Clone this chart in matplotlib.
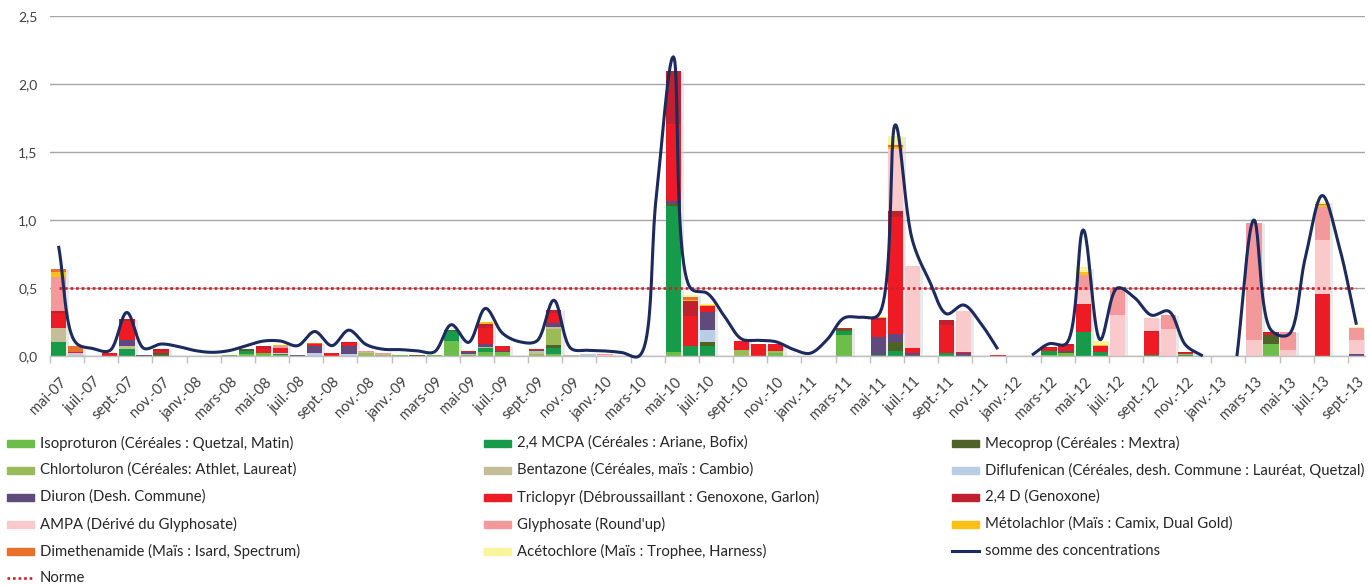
import numpy as np
import matplotlib
matplotlib.use("Agg")
import matplotlib.pyplot as plt
from matplotlib.patches import Rectangle
from matplotlib.lines import Line2D
from matplotlib.transforms import ScaledTranslation

plt.rcParams['font.family'] = ['Lato', 'DejaVu Sans']

# monthly samples, mai-07 .. sept-13
month_names = ['janv.', 'févr.', 'mars', 'avr.', 'mai', 'juin',
               'juil.', 'août', 'sept.', 'oct.', 'nov.', 'déc.']
months = []
for k in range(77):
    m = (4 + k) % 12
    y = 7 + (4 + k) // 12
    months.append(f"{month_names[m]}-{y:02d}")
n = len(months)


def series(d):
    out = np.zeros(n)
    for i, v in d.items():
        out[i] = v
    return out


# concentrations (µg/l) per molecule, keyed by month index
isoproturon = series({10: .01, 11: .015, 12: .02, 13: .01, 20: .01, 22: .004, 23: .11, 24: .01,
                      25: .03, 26: .027, 29: .015, 36: .03, 42: .02, 46: .155, 58: .005, 59: .02, 71: .09})
mcpa = series({0: .105, 4: .05, 11: .025, 13: .005, 23: .075, 25: .03, 29: .045, 36: 1.076, 37: .07,
               38: .07, 46: .03, 48: .01, 49: .04, 52: .02, 58: .035, 60: .176, 61: .032, 64: .007, 66: .008})
mecoprop = series({6: .025, 11: .01, 21: .005, 23: .007, 29: .022, 36: .012, 38: .03, 46: .01,
                   49: .06, 59: .012, 71: .068})
chlortoluron = series({18: .02, 19: .008, 28: .015, 29: .12, 40: .047, 42: .017, 66: .004})
bentazone = series({0: .10, 4: .02, 18: .012, 19: .01, 21: .005, 24: .005, 25: .008, 28: .025,
                    29: .01, 30: .008})
diflufenican = series({1: .02, 13: .01, 15: .025, 17: .012, 31: .015, 38: .093})
diuron = series({4: .05, 5: .01, 14: .01, 15: .045, 17: .065, 24: .015, 25: .02, 26: .01, 28: .005,
                 29: .027, 36: .022, 37: .007, 38: .127, 48: .127, 49: .064, 50: .02, 53: .02,
                 55: .003, 59: .008, 76: .012})
triclopyr = series({0: .113, 1: .01, 3: .02, 4: .14, 6: .015, 12: .03, 13: .035, 15: .015, 16: .02,
                    17: .022, 24: .008, 25: .115, 26: .037, 28: .008, 29: .076, 36: .564, 37: .22,
                    38: .044, 40: .061, 41: .086, 42: .05, 46: .012, 48: .127, 49: .858, 50: .037,
                    52: .21, 53: .01, 55: .007, 58: .02, 59: .034, 60: .21, 61: .042, 64: .167,
                    66: .012, 71: .012, 74: .456})
d24 = series({0: .01, 4: .01, 6: .015, 12: .025, 17: .005, 25: .03, 29: .025, 36: .395, 37: .105,
              48: .012, 49: .047, 52: .032, 58: .008, 59: .015, 64: .01, 66: .005, 71: .005})
ampa = series({32: .006, 49: .456, 50: .605, 53: .30, 60: .098, 62: .30, 64: .098, 65: .2, 70: .118,
               72: .044, 74: .397, 76: .105})
glyphosate = series({0: .25, 13: .01, 18: .008, 19: .005, 32: .008, 60: .11, 62: .20, 65: .10,
                     70: .863, 72: .13, 74: .245, 76: .088})
metolachlor = series({0: .04, 13: .008, 25: .02, 37: .012, 38: .012, 48: .01, 49: .012, 60: .02,
                      61: .005, 74: .012})
dimethenamide = series({0: .02, 1: .04, 15: .008, 37: .02, 49: .015, 74: .01})
acetochlore = series({37: .015, 38: .005, 49: .065, 60: .037, 61: .03, 74: .01, 76: .005})

somme = [0.81, 0.10, 0.055, 0.04, 0.32, 0.056, 0.088, 0.07, 0.04, 0.027,
         0.04, 0.076, 0.11, 0.11, 0.076, 0.18, 0.076, 0.19, 0.085, 0.05,
         0.047, 0.038, 0.03, 0.23, 0.10, 0.35, 0.167, 0.105, 0.11, 0.41,
         0.056, 0.042, 0.037, 0.025, 0.0, 1.17, 2.2, 0.5, 0.46, 0.29,
         0.125, 0.115, 0.105, 0.05, 0.02, 0.12, 0.28, 0.285, 0.30, 1.70,
         0.85, 0.55, 0.31, 0.375, 0.24, 0.05, None, 0.007, 0.09, 0.09,
         0.927, 0.12, 0.5, 0.43, 0.30, 0.33, 0.08, 0.0, None, 0.0,
         1.0, 0.19, 0.155, 0.72, 1.18, 0.80, 0.23]
norme = 0.5

layers = [
    ('Isoproturon (Céréales : Quetzal, Matin)', isoproturon, '#6cbd49'),
    ('2,4 MCPA (Céréales : Ariane, Bofix)', mcpa, '#179a4a'),
    ('Mecoprop (Céréales : Mextra)', mecoprop, '#4f6228'),
    ('Chlortoluron (Céréales: Athlet, Laureat)', chlortoluron, '#9bbb59'),
    ('Bentazone (Céréales, maïs : Cambio)', bentazone, '#c4bd97'),
    ('Diflufenican (Céréales, desh. Commune : Lauréat, Quetzal)', diflufenican, '#b9cde5'),
    ('Diuron (Desh. Commune)', diuron, '#604a7b'),
    ('Triclopyr (Débroussaillant : Genoxone, Garlon)', triclopyr, '#ed1c24'),
    ('2,4 D (Genoxone)', d24, '#c0202f'),
    ('AMPA (Dérivé du Glyphosate)', ampa, '#f9c9cc'),
    ('Glyphosate (Round\'up)', glyphosate, '#f4999b'),
    ('Métolachlor (Maïs : Camix, Dual Gold)', metolachlor, '#fcbf14'),
    ('Dimethenamide (Maïs : Isard, Spectrum)', dimethenamide, '#e8702a'),
    ('Acétochlore (Maïs : Trophee, Harness)', acetochlore, '#f7f49a'),
]
line_color = '#1c2a5e'
norme_color = '#d0202a'

# pixel scale of the plot (for a screen-space smoothing like the spreadsheet does)
PX_X, PX_Y = 17.1, 136.0


def smooth(xs, ys, steps=24, alpha=0.5):
    P = np.column_stack([np.asarray(xs, float) * PX_X, np.asarray(ys, float) * PX_Y])
    if len(P) < 2:
        return P[:, 0] / PX_X, P[:, 1] / PX_Y
    P = np.vstack([2 * P[0] - P[1], P, 2 * P[-1] - P[-2]])
    out = []
    for i in range(1, len(P) - 2):
        p0, p1, p2, p3 = P[i - 1], P[i], P[i + 1], P[i + 2]
        t0 = 0.0
        t1 = t0 + max(np.linalg.norm(p1 - p0), 1e-6) ** alpha
        t2 = t1 + max(np.linalg.norm(p2 - p1), 1e-6) ** alpha
        t3 = t2 + max(np.linalg.norm(p3 - p2), 1e-6) ** alpha
        t = np.linspace(t1, t2, steps, endpoint=False)[:, None]
        a1 = (t1 - t) / (t1 - t0) * p0 + (t - t0) / (t1 - t0) * p1
        a2 = (t2 - t) / (t2 - t1) * p1 + (t - t1) / (t2 - t1) * p2
        a3 = (t3 - t) / (t3 - t2) * p2 + (t - t2) / (t3 - t2) * p3
        b1 = (t2 - t) / (t2 - t0) * a1 + (t - t0) / (t2 - t0) * a2
        b2 = (t3 - t) / (t3 - t1) * a2 + (t - t1) / (t3 - t1) * a3
        c = (t2 - t) / (t2 - t1) * b1 + (t - t1) / (t2 - t1) * b2
        out.append(c)
    out.append(P[-2][None, :])
    out = np.vstack(out)
    return out[:, 0] / PX_X, out[:, 1] / PX_Y


W, H = 1370, 585
fig = plt.figure(figsize=(W / 100, H / 100), dpi=100)
ax = fig.add_axes([50 / W, 1 - 356 / H, 1315 / W, 340 / H])

x = np.arange(n)
bw = 0.9
total = sum(v for _, v, _ in layers)
# soft excel-like shadow behind each bar
for i in range(n):
    if total[i] > 0:
        ax.add_patch(Rectangle((i - bw / 2 + 0.18, 0), bw, total[i] - 0.008,
                               color='#d4d4d4', alpha=0.5, lw=0, zorder=1))
bottom = np.zeros(n)
for label, vals, col in layers:
    ax.bar(x, vals, bw, bottom=bottom, color=col, zorder=2, linewidth=0)
    bottom += vals

# sum of concentrations, smoothed, broken where missing
seg = []
for i, v in enumerate(somme + [None]):
    if v is None:
        if seg:
            sx, sy = smooth([s[0] for s in seg], [s[1] for s in seg])
            ax.plot(sx, sy, color=line_color, lw=2.2, zorder=4, solid_capstyle='butt', clip_on=False)
        seg = []
    else:
        seg.append((i, v))

ax.plot(x, [norme] * n, color=norme_color, lw=1.9, ls=(0, (1, 1.1)), zorder=3)

ax.set_xlim(-0.5, n - 0.5)
ax.set_ylim(0, 2.5)
yt = [0, 0.5, 1.0, 1.5, 2.0, 2.5]
ax.set_yticks(yt)
ax.set_yticklabels([f"{v:.1f}".replace('.', ',') for v in yt], fontsize=10, color='#404040')
ax.tick_params(axis='y', length=0, pad=9)
ax.yaxis.grid(True, color='#a6a6a6', lw=1.0)
ax.set_axisbelow(True)
for s in ['top', 'right', 'left']:
    ax.spines[s].set_visible(False)
ax.spines['bottom'].set_color('#bfbfbf')
ax.spines['bottom'].set_linewidth(1.0)

ax.set_xticks(x[::2])
ax.set_xticklabels(months[::2], rotation=45, ha='right', va='center', rotation_mode='anchor',
                   fontsize=10.5, color='#404040')
ax.tick_params(axis='x', which='major', length=0, pad=17)
ax.set_xticks(np.arange(-0.5, n - 1, 2), minor=True)
ax.tick_params(axis='x', which='minor', length=5, color='#bfbfbf', width=1)
for lab in ax.get_xticklabels():
    lab.set_transform(lab.get_transform() + ScaledTranslation(6 / 100, 0, fig.dpi_scale_trans))

# legend drawn by hand: 3 columns, row-major
cols_x = [7, 484, 952]
rows_y = [443, 470, 497, 524, 551, 578]
entries = [(lab, 'patch', col) for lab, _, col in layers]
entries.append(('somme des concentrations', 'line', line_color))
entries.append(('Norme', 'dots', norme_color))
for k, (lab, kind, col) in enumerate(entries):
    cx = cols_x[k % 3]
    cy = rows_y[k // 3]
    if kind == 'patch':
        fig.patches.append(Rectangle((cx / W, 1 - (cy + 3.5) / H), 27 / W, 7 / H,
                                     color=col, transform=fig.transFigure, figure=fig))
    elif kind == 'line':
        fig.lines.append(Line2D([cx / W, (cx + 27) / W], [1 - cy / H] * 2, color=col, lw=2.2,
                                transform=fig.transFigure, figure=fig))
    else:
        fig.lines.append(Line2D([cx / W, (cx + 27) / W], [1 - cy / H] * 2, color=col, lw=1.9,
                                ls=(0, (1, 1.1)), transform=fig.transFigure, figure=fig))
    fig.text((cx + 33) / W, 1 - cy / H, lab, fontsize=10.7, color='#262626', va='center', ha='left')

fig.savefig('out.png', dpi=100)
